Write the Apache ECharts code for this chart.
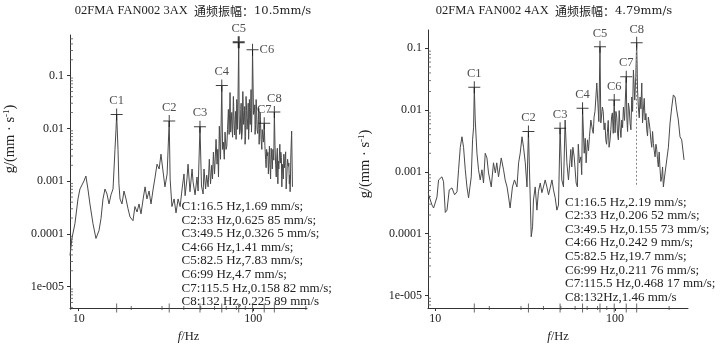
<!DOCTYPE html>
<html>
<head>
<meta charset="utf-8">
<script src="https://cdn.jsdelivr.net/npm/echarts@6/dist/echarts.min.js"></script>
<style>
html,body{margin:0;padding:0;background:#fff}
#chart{width:722px;height:348px}
</style>
</head>
<body>
<div id="chart"></div>
<script>
// Spectrum of channel 3AX (frequency in Hz, amplitude)
const leftFreq = [8.92,9.15,9.52,9.91,10.17,10.73,11.0,11.3,11.6,12.08,12.56,13.07,13.42,13.78,14.15,14.53,14.92,15.31,15.73,15.94,16.14,16.36,16.5,16.8,17.0,17.25,17.7,18.18,18.67,19.17,19.68,20.47,21.0,21.6,22.16,22.75,23.4,24.0,24.6,25.3,25.96,26.7,27.4,28.1,28.9,29.6,30.4,31.2,32.1,33,33.4,34.2,35.2,36.1,37.1,38.1,
  39.1,40.1,40.7,41.7,42.3,43.4,44.6,45.2,46.4,47.6,48.3,49.5,50.5,51.6,52.2,53.3,54.1,55.1,56.0,56.9,57.8,58.4,59.1,60.0,61.2,62.0,62.6,63.2,63.9,64.9,66,66.7,67.4,68.2,68.9,69.8,70.5,71.2,72.0,72.7,73.6,74.6,75.3,76.1,76.9,77.6,78.7,79.7,80.4,81.3,82.5,83.5,84.8,85.7,87.1,88.0,88.9,89.7,90.9,92.1,93.0,94.0,95.0,96.1,97.1,98.2,99,100.3,101.1,102.4,103.8,105.1,106.9,108.0,109.4,110.8,111.9,113.1,114.3,115.5,117.6,119.2,120.4,122.0,123.7,125.6,127.6,129.5,132,134.2,136.4,138.2,140.0,141.9,143.8,145.7,147.6,149.6,152.1,154.2,155.6,157.2,158.9,160.8,162.5,164.0,165.8,167.6];
const leftAmp = [3.9e-5,8.2e-5,1.56e-4,4.6e-4,7.1e-4,1.01e-3,1.25e-3,7.1e-4,3.7e-4,1.56e-4,8.2e-5,1.15e-4,1.94e-4,4.6e-4,7.1e-4,5.7e-4,3.7e-4,5.5e-4,7.1e-4,1.7e-3,4.0e-3,9.6e-3,0.0184,4.0e-3,8.9e-4,4.6e-4,3.7e-4,6.5e-4,4.6e-4,3.0e-4,2.1e-4,1.78e-4,3.3e-4,2.6e-4,3.7e-4,2.4e-4,4.6e-4,7.8e-4,4.6e-4,6.5e-4,3.7e-4,7.1e-4,1.2e-3,2.1e-3,1.7e-3,3.25e-3,1.56e-3,7.8e-4,1.37e-3,0.0138,1.1e-3,3.3e-4,4.6e-4,2.5e-4,4.6e-4,3.3e-4,
  7.1e-4,1.37e-3,5.3e-4,1.1e-3,2.1e-3,6.3e-4,1.7e-3,9.7e-4,5.5e-4,1.2e-3,6.5e-4,0.0108,8.1e-4,5.7e-4,1.7e-3,7.1e-4,1.3e-3,7.8e-4,2.6e-3,8.9e-4,2.0e-3,1.1e-3,3.55e-3,1.37e-3,6.2e-3,2.1e-3,4.0e-3,1.2e-3,0.011,2.6e-3,0.0648,4.0e-3,5.5e-3,2.6e-3,8.5e-3,4.0e-3,4.6e-3,9.6e-3,0.0229,7.7e-3,0.0479,0.0119,0.0201,6.8e-3,0.0403,0.0119,0.0148,6.2e-3,0.0353,9.6e-3,0.431,7.7e-3,0.0229,6.2e-3,0.05,0.0119,0.0169,5.0e-3,0.0403,9.6e-3,0.0162,6.2e-3,0.0353,0.0119,0.0545,0.0184,0.309,0.0184,0.0201,7.7e-3,0.0353,9.6e-3,0.0148,5.0e-3,0.0201,6.2e-3,4.0e-3,7.7e-3,5.5e-3,0.0125,2.6e-3,4.0e-3,3.0e-3,1.37e-3,4.6e-3,1.1e-3,2.6e-3,4.0e-3,0.0204,2.1e-3,3.0e-3,8.9e-4,1.7e-3,5.0e-3,3.55e-3,7.8e-4,1.5e-3,3.25e-3,2.6e-3,7.1e-4,1.25e-3,2.6e-3,1.9e-3,8.9e-4,6.3e-4,3.0e-3,8.9e-3,7.8e-4];
// Extra bins in the dense 74-164 Hz band of 3AX
const leftBandFreq = [74.2,75.7,77.2,78.2,79.2,80.0,80.8,83.0,84.2,85.2,86.4,87.6,89.3,90.3,91.5,92.6,93.5,94.5,95.5,96.6,97.6,102.0,103.1,104.5,106.0,107.5,108.7,110.1,112.5,116.5,118.4,121.2,122.8,124.6,126.6,128.5,131.0,133.1,135.3,137.3,139.1,141.0,142.8,144.8,146.6,148.6,150.8,153.2,156.4,159.8,161.6,163.2];
const leftBandAmp = [0.0085,0.0095,0.026,0.0075,0.021,0.011,0.028,0.018,0.009,0.03,0.0085,0.022,0.026,0.007,0.022,0.009,0.03,0.0105,0.015,0.025,0.0085,0.028,0.012,0.022,0.008,0.024,0.01,0.012,0.0095,0.0048,0.0018,0.0035,0.0022,0.0021,0.0042,0.0017,0.0025,0.0048,0.0012,0.0042,0.0024,0.0016,0.0022,0.0028,0.0021,0.0011,0.0018,0.0036,0.0019,0.0022,0.0013,0.0011];

// Spectrum of channel 4AX
const rightFreq = [9.16,9.19,9.6,9.8,10.23,10.44,10.9,11.13,11.38,11.63,11.97,12.4,12.82,13.22,13.49,13.79,14.09,14.38,14.7,15.02,15.33,15.87,16.14,16.35,16.5,16.7,17.07,17.42,17.8,18.2,18.57,18.98,19.4,19.8,20.5,21.1,21.6,22.0,22.5,23.3,24.0,24.5,25.1,25.6,26.1,26.9,27.6,28.5,29.1,29.7,30.4,31.0,31.7,32.4,33,33.8,34.2,34.8,35.2,36.0,36.8,37.5,38.4,39.2,40.0,40.9,41.8,42.7,43.6,44.6,45.5,46.5,47.5,48.5,49.5,50.6,51.7,52.8,54.0,55.1,56.8,58.3,59.3,60.8,61.8,63.4,64.6,66,67.4,69.1,70.3,72.1,73.4,74.9,76.5,78.2,79.2,80.3,82.5,83.4,85.1,87.0,88.9,90.7,92.7,94.8,96.7,99,100.1,102.3,104.4,106.7,109.1,111.4,115.5,116.3,118.7,121.3,124.0,126.6,132,133.5,134.9,137.9,140.9,143.8,147.0,150.2,153.3,156.7,160.1,163.5,167.1,170.7,174.2,178.1,182.0,185.8,189.8,194.0,198.1,202.4,206.9,211.1,215.8,220.4,225.0,229.9,235.0,242.1];
const rightAmp = [4.6e-4,4.25e-4,2.9e-4,2.6e-4,3.9e-4,7.4e-4,8.3e-4,6.9e-4,2.2e-4,2.4e-4,5.1e-4,5.5e-4,4.25e-4,4.75e-4,1.08e-3,2.5e-3,3.7e-3,2.5e-3,1.08e-3,5.7e-4,3.8e-4,8.3e-4,3.3e-3,5.3e-3,0.0234,6.9e-3,2.0e-3,1.08e-3,7.4e-4,1.08e-3,6.6e-4,2.0e-3,1.68e-3,9.6e-4,5.7e-4,1.4e-3,9.6e-4,1.4e-3,8.3e-4,1.68e-3,1.08e-3,7.4e-4,5.7e-4,3.9e-4,2.6e-4,5.7e-4,7.4e-4,5.7e-4,1.4e-3,2.0e-3,3.7e-3,2.5e-3,1.4e-3,5.7e-4,4.49e-3,3.5e-4,8.9e-5,1.29e-4,3.5e-4,5.7e-4,2.4e-4,4.75e-4,6.6e-4,4.6e-4,5.7e-4,7.4e-4,5.7e-4,4.25e-4,5.5e-4,7.4e-4,5.1e-4,3.8e-4,2.4e-4,2.9e-4,5.09e-3,7.4e-4,5.7e-4,6.9e-3,1.4e-3,7.4e-4,2.3e-3,2.5e-3,1.75e-3,6.6e-4,5.7e-4,1.4e-3,1.75e-3,0.0107,2.0e-3,1.4e-3,3.3e-3,3.7e-3,6.9e-3,4.8e-3,7.7e-3,0.01,0.0275,0.013,0.106,6.2e-3,0.0112,4.8e-3,3.3e-3,4.3e-3,2.5e-3,4.8e-3,9.0e-3,0.0146,4.3e-3,7.7e-3,3.3e-3,5.3e-3,6.9e-3,0.0112,0.0347,7.7e-3,0.013,6.2e-3,0.0163,0.0446,0.123,0.0212,0.0112,0.0163,0.0275,0.01,6.9e-3,4.8e-3,7.7e-3,4.8e-3,2.5e-3,2.9e-3,1.75e-3,2.3e-3,1.2e-3,1.08e-3,8.3e-4,5.7e-4,9.6e-4,1.56e-3,2.5e-3,6.2e-3,0.0112,0.0176,0.0163,0.01,6.9e-3,3.7e-3,3.3e-3,1.56e-3];
// Extra bins in the dense 57-188 Hz band of 4AX
const rightBandFreq = [57.5,62.5,65.3,68.3,71.2,75.7,77.4,81.3,84.2,86.0,88.0,89.8,91.7,93.8,95.7,97.8,101.2,103.3,105.5,107.9,110.2,113.0,117.5,120.0,122.6,125.3,128.8,130.5,136.4,139.4,142.3,145.4,148.6,151.7,155.0,158.4,161.8,165.3,168.9,172.4,176.1,180.0,183.9,187.8];
const rightBandAmp = [0.0012,0.0028,0.0009,0.0035,0.0022,0.0042,0.0095,0.0065,0.0058,0.0095,0.0062,0.0028,0.0068,0.0032,0.0078,0.0042,0.0095,0.0042,0.0098,0.0036,0.0052,0.0068,0.0045,0.0105,0.0048,0.0095,0.0145,0.035,0.0075,0.0105,0.0062,0.0155,0.0088,0.0038,0.0062,0.0032,0.0045,0.0022,0.0028,0.0016,0.0021,0.0007,0.0012,0.00055];

// Cursor markers (harmonics of 16.5 Hz)
const cursorNames = ['C1','C2','C3','C4','C5','C6','C7','C8'];
const cursorFreq = [16.5,33,49.5,66,82.5,99,115.5,132];
const leftCursorAmp = [0.0184,0.0138,0.0108,0.0648,0.431,0.309,0.0125,0.0204];
const rightCursorAmp = [0.0234,0.00449,0.00509,0.0107,0.106,0.0146,0.0347,0.123];

// Readout lines
const leftReadout = ['C1:16.5 Hz,1.69 mm/s;','C2:33 Hz,0.625 85 mm/s;','C3:49.5 Hz,0.326 5 mm/s;','C4:66 Hz,1.41 mm/s;','C5:82.5 Hz,7.83 mm/s;','C6:99 Hz,4.7 mm/s;','C7:115.5 Hz,0.158 82 mm/s;','C8:132 Hz,0.225 89 mm/s'];
const rightReadout = ['C1:16.5 Hz,2.19 mm/s;','C2:33 Hz,0.206 52 mm/s;','C3:49.5 Hz,0.155 73 mm/s;','C4:66 Hz,0.242 9 mm/s;','C5:82.5 Hz,19.7 mm/s;','C6:99 Hz,0.211 76 mm/s;','C7:115.5 Hz,0.468 17 mm/s;','C8:132Hz,1.46 mm/s'];

// Titles
const channelNames = ['02FMA FAN002 3AX','02FMA FAN002 4AX'];
const overallLevel = ['10.5mm/s','4.79mm/s'];

// Axis tick labels
const yTickValues = [1e-5,1e-4,1e-3,1e-2,1e-1];
const yTickLabels = ['1e-005','0.0001','0.001','0.01','0.1'];
const xMinorTicks = [9,20,30,40,50,60,70,80,90,200];
const yMinorMult = [2,3,4,5,6,7,8,9];
const yDecades = [1e-6,1e-5,1e-4,1e-3,1e-2,1e-1];

// Axis ranges
const ranges = [
  {xMin: 8.92, xMax: 203, yMin: 3.92e-6, yMax: 0.59},
  {xMin: 9.12, xMax: 254.7, yMin: 6.25e-6, yMax: 0.198}
];

const SERIF = 'Liberation Serif';
const INK = '#222';

function yLabel(v) {
  let best = 0, bd = Infinity;
  yTickValues.forEach((t, i) => {
    const d = Math.abs(Math.log10(v) - Math.log10(t));
    if (d < bd) { bd = d; best = i; }
  });
  return bd < 0.01 ? yTickLabels[best] : '';
}

function spectrum(freq, amp, bandFreq, bandAmp) {
  const pts = freq.map((f, i) => [f, amp[i]]).concat(bandFreq.map((f, i) => [f, bandAmp[i]]));
  pts.sort((a, b) => a[0] - b[0]);
  return pts;
}

const CROSS = 'path://M0,5.5H12V6.5H0ZM5.5,0H6.5V12H5.5Z';
const CROSS_BOLD = 'path://M0,5H12V7H0ZM5,0H7V12H5Z';

const grids = [
  {left: 70, top: 35, width: 237, height: 275},
  {left: 428, top: 30, width: 260, height: 278}
];

const xAxes = [], yAxes = [], series = [];
[0, 1].forEach(g => {
  const r = ranges[g];
  xAxes.push({
    type: 'log', logBase: 10, gridIndex: g, min: r.xMin, max: r.xMax,
    axisLine: {lineStyle: {color: '#333', width: 1}},
    axisTick: {length: 3, lineStyle: {color: '#333'}},
    splitLine: {show: false},
    axisLabel: {showMinLabel: false, showMaxLabel: false, margin: 5,
      fontFamily: SERIF, fontSize: 12, color: INK},
    name: '{i|f}/Hz', nameLocation: 'middle', nameGap: 20,
    nameTextStyle: {fontFamily: SERIF, fontSize: 12.5, color: INK,
      rich: {i: {fontFamily: SERIF, fontStyle: 'italic', fontSize: 12.5, color: INK}}}
  });
  yAxes.push({
    type: 'log', logBase: 10, gridIndex: g, min: r.yMin, max: r.yMax,
    axisLine: {lineStyle: {color: '#333', width: 1}},
    axisTick: {length: 3, lineStyle: {color: '#333'}},
    splitLine: {show: false},
    axisLabel: {showMinLabel: false, showMaxLabel: false, margin: 6,
      fontFamily: SERIF, fontSize: 12, color: INK, formatter: yLabel}
  });

  series.push({
    type: 'line', xAxisIndex: g, yAxisIndex: g,
    data: g === 0 ? spectrum(leftFreq, leftAmp, leftBandFreq, leftBandAmp)
                  : spectrum(rightFreq, rightAmp, rightBandFreq, rightBandAmp),
    showSymbol: false, silent: true,
    lineStyle: {color: '#4a4a4a', width: 1},
    z: 2
  });

  // minor ticks on the frequency axis
  series.push({
    type: 'scatter', xAxisIndex: g, yAxisIndex: g, silent: true, clip: false,
    data: xMinorTicks.filter(f => f > r.xMin && f < r.xMax).map(f => [f, r.yMin]),
    symbol: 'rect', symbolSize: [1, 4], itemStyle: {color: '#444'}, z: 3
  });
  // cursor ticks on the frequency axis
  series.push({
    type: 'scatter', xAxisIndex: g, yAxisIndex: g, silent: true, clip: false,
    data: cursorFreq.map(f => [f, r.yMin]),
    symbol: 'rect', symbolSize: [1, 9], itemStyle: {color: '#444'}, z: 3
  });
  // minor ticks on the amplitude axis
  const yMinor = [];
  yDecades.forEach(d => yMinorMult.forEach(m => {
    const v = d * m;
    if (v > r.yMin && v < r.yMax) yMinor.push([r.xMin, v]);
  }));
  series.push({
    type: 'scatter', xAxisIndex: g, yAxisIndex: g, silent: true, clip: false,
    data: yMinor, symbol: 'rect', symbolSize: [3, 1], symbolOffset: [1.5, 0],
    itemStyle: {color: '#555'}, z: 3
  });

  // cursor crosshairs with names
  const cAmp = g === 0 ? leftCursorAmp : rightCursorAmp;
  series.push({
    type: 'scatter', xAxisIndex: g, yAxisIndex: g, silent: true, clip: false,
    data: cursorFreq.map((f, i) => {
      const item = {name: cursorNames[i], value: [f, cAmp[i]]};
      if (g === 0 && i === 4) item.symbol = CROSS_BOLD;
      if (g === 0 && i === 5) item.label = {position: 'right', distance: 1};
      return item;
    }),
    symbol: CROSS, symbolSize: [12, 12],
    itemStyle: {color: '#111'},
    label: {show: true, position: 'top', distance: 1, formatter: '{b}',
      fontFamily: SERIF, fontSize: 12.5, color: INK},
    markLine: g === 1 ? {
      silent: true, symbol: 'none', label: {show: false},
      lineStyle: {color: '#888', type: [2, 2], width: 1},
      data: [[{coord: [cursorFreq[7], rightCursorAmp[7]]}, {coord: [cursorFreq[7], 6e-4]}]]
    } : undefined,
    z: 5
  });
});

const graphic = [];
[0, 1].forEach(g => {
  const cx = g === 0 ? 193 : 554;
  graphic.push({
    type: 'text', x: cx, y: 11,
    style: {
      text: '{a|' + channelNames[g] + '  }{b|通频振幅：}{c|' + overallLevel[g] + '}',
      align: 'center', verticalAlign: 'middle',
      rich: {
        a: {fontFamily: SERIF, fontSize: 12.5, fill: INK},
        b: {fontFamily: 'Noto Sans CJK SC', fontSize: 12, fill: INK},
        c: {fontFamily: 'DejaVu Serif', fontSize: 11.5, fill: INK}
      }
    }
  });
  graphic.push({
    type: 'text', x: g === 0 ? 181.5 : 565, y: g === 0 ? 199.9 : 195.5,
    style: {
      text: (g === 0 ? leftReadout : rightReadout).join('\n'),
      fontFamily: SERIF, fontSize: 13, lineHeight: 13.57, fill: INK
    }
  });
  graphic.push({
    type: 'text', x: g === 0 ? 10 : 365, y: g === 0 ? 139 : 164,
    rotation: Math.PI / 2,
    style: {
      text: '{t|g/(mm · s}{s|-1}{t|)}',
      align: 'center', verticalAlign: 'middle',
      rich: {
        t: {fontFamily: SERIF, fontSize: 14.5, fill: INK},
        s: {fontFamily: SERIF, fontSize: 9, fill: INK, verticalAlign: 'top', padding: [0, 0, 7, 0]}
      }
    }
  });
});

const chart = echarts.init(document.getElementById('chart'), null, {renderer: 'canvas'});
chart.setOption({
  backgroundColor: '#fff',
  animation: false,
  grid: grids,
  xAxis: xAxes,
  yAxis: yAxes,
  series: series,
  graphic: graphic
});
</script>
</body>
</html>
